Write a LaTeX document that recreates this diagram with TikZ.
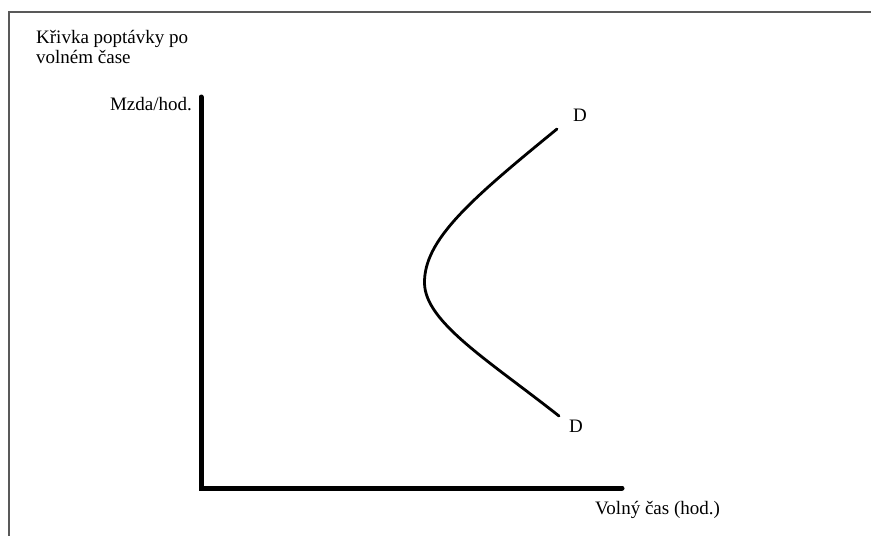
\documentclass[tikz,border=0pt]{standalone}
\usepackage{fontspec}
\setmainfont{Liberation Serif}
\begin{document}
\begin{tikzpicture}[x=1pt,y=-1pt,
  lbl/.style={inner sep=0pt,font=\fontsize{19}{20}\selectfont},
  axis/.style={line width=5pt,line cap=round},
  curve/.style={line width=2.8pt,line cap=round}]
\useasboundingbox (0,0) rectangle (871,536);
\draw[line width=2pt,gray!70!black] (9,536) -- (9,12) -- (871,12);
\node[lbl,anchor=north west,align=left] (title) at (36,30) {Křivka poptávky po\\volném čase};
\coordinate (o) at (201,488);
\coordinate (ytop) at (201,97);
\coordinate (xend) at (622,488);
\draw[axis] (ytop) -- (o) -- (xend);
\node[lbl,anchor=east] (ylab) at (192,104) {Mzda/hod.};
\node[lbl,anchor=west] (xlab) at (595,510) {Volný čas (hod.)};
\coordinate (dtop) at (557,129);
\coordinate (vtx) at (424.5,283);
\coordinate (dbot) at (559,416);
\draw[curve] (dtop) .. controls (470,200) and (424,240) .. (vtx)
  .. controls (425,322) and (488,360) .. (dbot);
\node[lbl] (d1) at (580,115) {D};
\node[lbl] (d2) at (576,426) {D};
\end{tikzpicture}
\end{document}
